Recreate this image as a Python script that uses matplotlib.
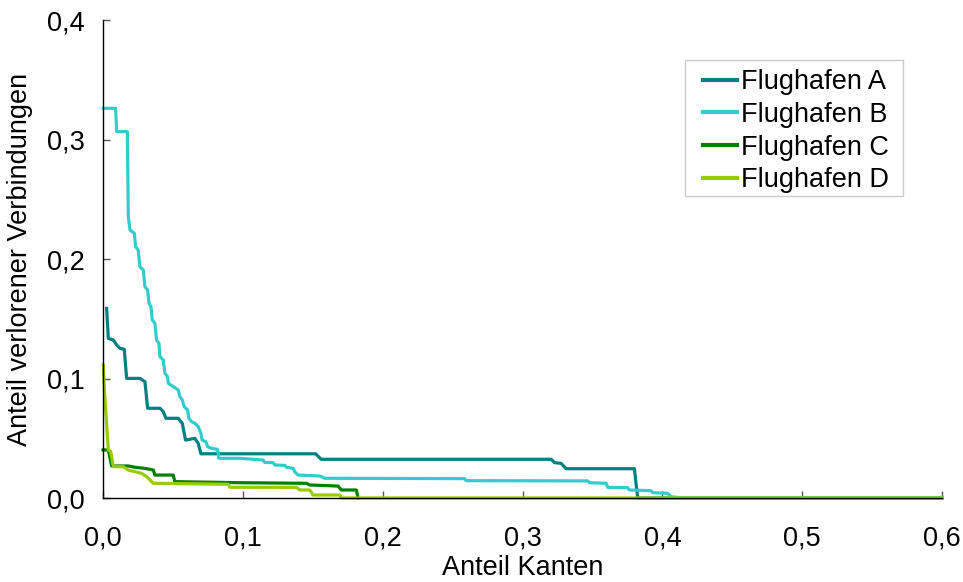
import matplotlib
matplotlib.use("Agg")
import matplotlib.pyplot as plt
from matplotlib.patches import Rectangle
from matplotlib.ticker import FuncFormatter

# ===========================
# Daten
# ===========================
a_x = [0.0026, 0.0038, 0.0074, 0.0098, 0.0121, 0.0152, 0.0169, 0.0264, 0.0300, 0.0319,
       0.0407, 0.0431, 0.0450, 0.0538, 0.0567, 0.0590, 0.0657, 0.0681, 0.0700, 0.1520,
       0.1560, 0.3205, 0.3229, 0.3276, 0.3312, 0.3800, 0.3824, 0.6000]
a_y = [0.1587, 0.1336, 0.1322, 0.1280, 0.1253, 0.1244, 0.1001, 0.1001, 0.0973, 0.0751,
       0.0751, 0.0722, 0.0667, 0.0667, 0.0625, 0.0485, 0.0499, 0.0457, 0.0370, 0.0370,
       0.0324, 0.0324, 0.0296, 0.0290, 0.0245, 0.0245, 0.0000, 0.0000]

b_x = [0.0002, 0.0090, 0.0098, 0.0174, 0.0181, 0.0193, 0.0224, 0.0233, 0.0252, 0.0264,
       0.0288, 0.0300, 0.0319, 0.0329, 0.0343, 0.0352, 0.0371, 0.0383, 0.0400, 0.0407,
       0.0431, 0.0443, 0.0462, 0.0467, 0.0502, 0.0538, 0.0550, 0.0567, 0.0581, 0.0605,
       0.0614, 0.0633, 0.0657, 0.0681, 0.0700, 0.0709, 0.0736, 0.0748, 0.0776, 0.0819,
       0.0829, 0.0979, 0.1145, 0.1157, 0.1217, 0.1229, 0.1300, 0.1312, 0.1360, 0.1371,
       0.1395, 0.1550, 0.1586, 0.2586, 0.2598, 0.3467, 0.3479, 0.3598, 0.3610, 0.3752,
       0.3764, 0.3919, 0.3931, 0.4038, 0.4062, 0.4145, 0.6000]
b_y = [0.3261, 0.3261, 0.3066, 0.3066, 0.2354, 0.2243, 0.2215, 0.2103, 0.2075, 0.1936,
       0.1908, 0.1768, 0.1741, 0.1629, 0.1601, 0.1490, 0.1462, 0.1322, 0.1294, 0.1183,
       0.1155, 0.1043, 0.1015, 0.0960, 0.0932, 0.0904, 0.0848, 0.0820, 0.0764, 0.0736,
       0.0667, 0.0639, 0.0625, 0.0597, 0.0541, 0.0485, 0.0471, 0.0430, 0.0416, 0.0407,
       0.0332, 0.0332, 0.0318, 0.0298, 0.0296, 0.0276, 0.0273, 0.0257, 0.0248, 0.0220,
       0.0192, 0.0184, 0.0165, 0.0162, 0.0145, 0.0143, 0.0128, 0.0123, 0.0089, 0.0087,
       0.0067, 0.0061, 0.0045, 0.0039, 0.0011, 0.0000, 0.0000]

c_x = [0.0000, 0.0038, 0.0062, 0.0181, 0.0229, 0.0300, 0.0360, 0.0371, 0.0502, 0.0514,
       0.0979, 0.1455, 0.1479, 0.1681, 0.1705, 0.1812, 0.1824]
c_y = [0.0402, 0.0402, 0.0268, 0.0268, 0.0257, 0.0248, 0.0234, 0.0192, 0.0192, 0.0137,
       0.0128, 0.0123, 0.0109, 0.0100, 0.0067, 0.0067, 0.0000]

d_x = [0.0002, 0.0010, 0.0038, 0.0055, 0.0074, 0.0145, 0.0181, 0.0229, 0.0276, 0.0312,
       0.0360, 0.0895, 0.0907, 0.1383, 0.1407, 0.1479, 0.1502, 0.1693, 0.1705, 0.6000]
d_y = [0.1113, 0.0904, 0.0402, 0.0390, 0.0262, 0.0262, 0.0234, 0.0220, 0.0206, 0.0179,
       0.0123, 0.0115, 0.0090, 0.0089, 0.0067, 0.0067, 0.0025, 0.0025, 0.0000, 0.0000]

labels = ["Flughafen A", "Flughafen B", "Flughafen C", "Flughafen D"]
colors = ["#008080", "#33CCCC", "#008000", "#99CC00"]

# ===========================
# Plot
# ===========================
plt.rcParams['font.family'] = ['Liberation Sans', 'DejaVu Sans']
plt.rcParams['font.size'] = 19.5

fig = plt.figure(figsize=(9.63, 5.82), dpi=100)
ax = fig.add_axes([103 / 963, 84 / 582, 839 / 963, 478 / 582])

for xs, ys, lab, col in zip([a_x, b_x, c_x, d_x], [a_y, b_y, c_y, d_y], labels, colors):
    ax.plot(xs, ys, color=col, lw=2.3, label=lab, clip_on=False, solid_joinstyle='round')

ax.set_xlim(0, 0.6)
ax.set_ylim(0, 0.4)
ax.set_xticks([0, 0.1, 0.2, 0.3, 0.4, 0.5, 0.6])
ax.set_yticks([0, 0.1, 0.2, 0.3, 0.4])
comma = FuncFormatter(lambda v, p: f"{v:.1f}".replace(".", ","))
ax.xaxis.set_major_formatter(comma)
ax.yaxis.set_major_formatter(comma)

ax.spines['top'].set_visible(False)
ax.spines['right'].set_visible(False)
ax.spines['left'].set_linewidth(1.0)
ax.spines['bottom'].set_linewidth(1.0)
ax.tick_params(axis='x', direction='in', length=5, width=1, color='#555555', pad=20)
ax.tick_params(axis='y', direction='in', length=5, width=1, color='#555555', pad=13)

ax.set_xlabel("Anteil Kanten", labelpad=2)
ax.set_ylabel("Anteil verlorener Verbindungen", labelpad=10)

# Legendenrahmen separat (enger oben/unten als matplotlib es macht)
ax.add_patch(Rectangle((582 / 839, 302 / 478), 218 / 839, 136 / 478, transform=ax.transAxes,
                       facecolor='white', edgecolor='#cccccc', lw=1.0, zorder=4))
leg = ax.legend(loc='upper left', bbox_to_anchor=(0.7151, 0.8975), borderaxespad=0,
                frameon=False, handlelength=1.24, handletextpad=0.16, labelspacing=0.25,
                borderpad=0, fontsize=19.5)
leg.set_zorder(5)
for line in leg.get_lines():
    line.set_linewidth(3)

fig.savefig("out.png", dpi=100)
